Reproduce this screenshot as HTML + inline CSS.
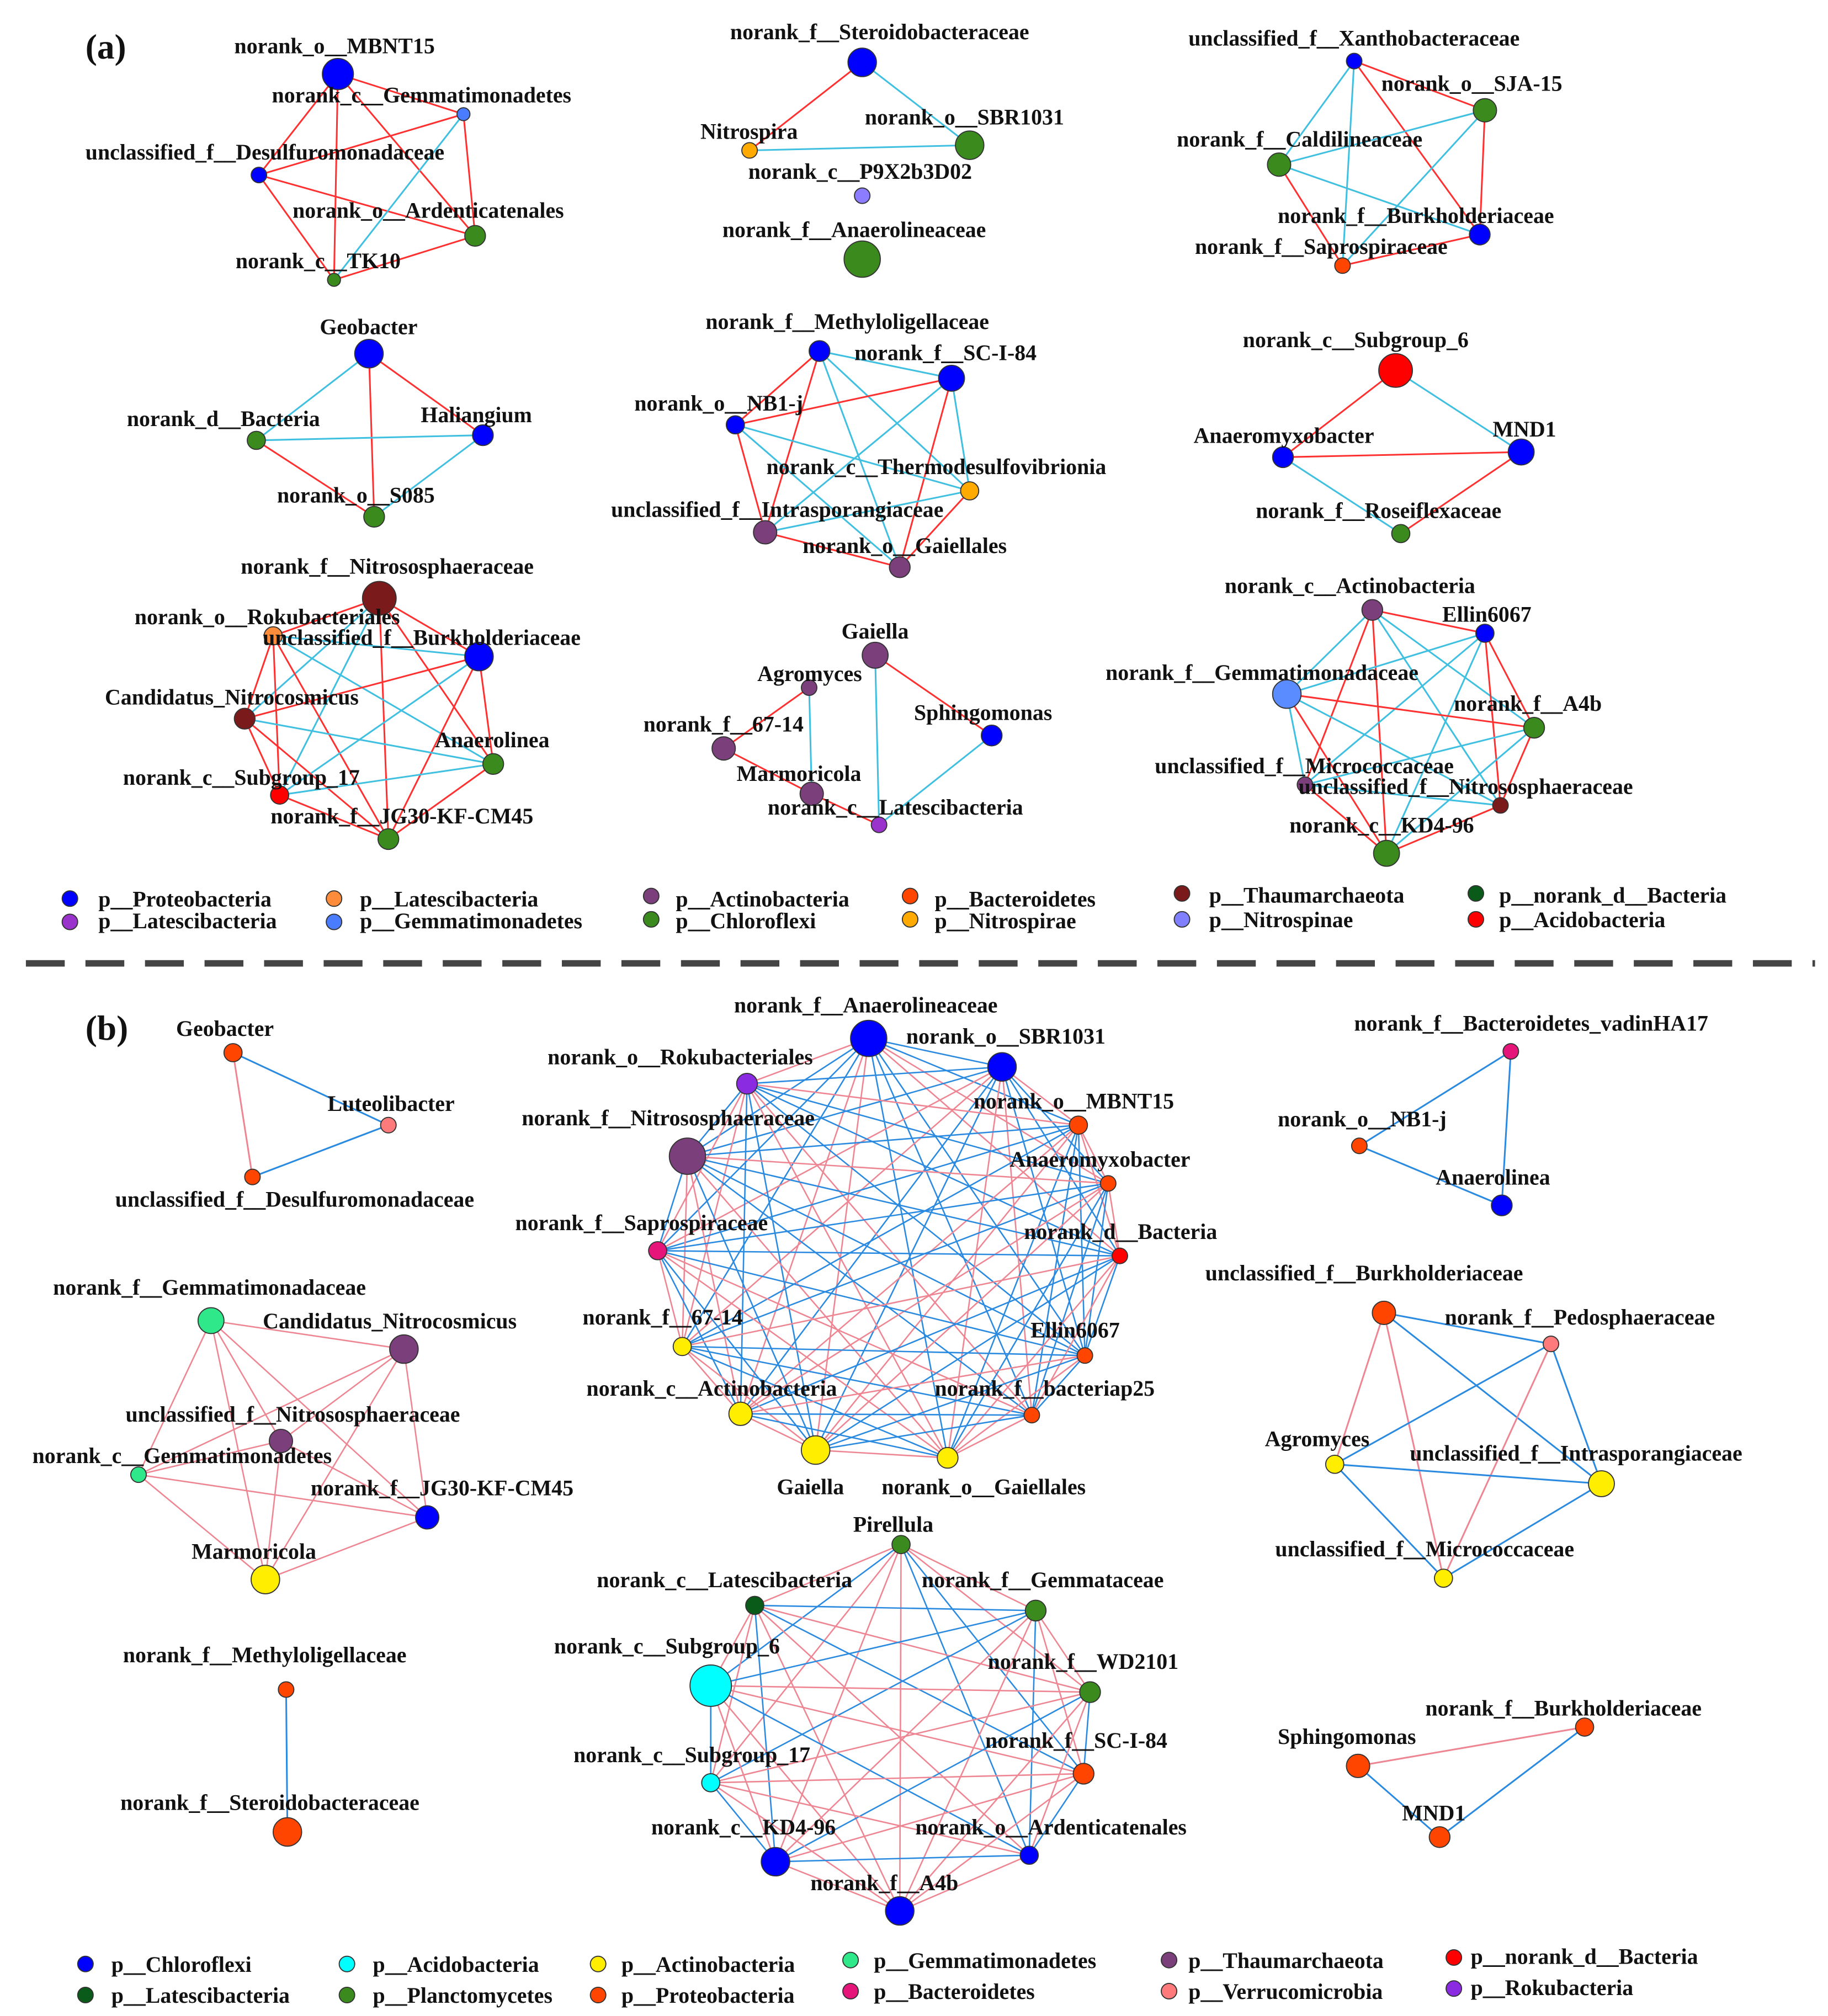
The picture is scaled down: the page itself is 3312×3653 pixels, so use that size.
<!DOCTYPE html>
<html><head><meta charset="utf-8">
<style>
html,body{margin:0;padding:0;background:#fff;}
svg{display:block;}
</style></head>
<body>
<svg id="s" xmlns="http://www.w3.org/2000/svg" width="3312" height="3653" viewBox="0 0 1412 1557">
<rect width="1412" height="1557" fill="#fff"/>
<g id="edges"></g>
<g id="nodes"></g>
<line x1="20" y1="744" x2="1402" y2="744" stroke="#444" stroke-width="5" stroke-dasharray="30,16"/>
<g id="labels" font-family="Liberation Serif, DejaVu Serif, serif" font-weight="bold" font-size="17" fill="#111">
<text x="66" y="45" font-size="27">(a)</text>
<text x="181" y="41">norank_o__MBNT15</text>
<text x="210" y="79">norank_c__Gemmatimonadetes</text>
<text x="66" y="123">unclassified_f__Desulfuromonadaceae</text>
<text x="226" y="168">norank_o__Ardenticatenales</text>
<text x="182" y="207">norank_c__TK10</text>
<text x="564" y="30">norank_f__Steroidobacteraceae</text>
<text x="668" y="96">norank_o__SBR1031</text>
<text x="541" y="107">Nitrospira</text>
<text x="578" y="138">norank_c__P9X2b3D02</text>
<text x="558" y="183">norank_f__Anaerolineaceae</text>
<text x="918" y="35">unclassified_f__Xanthobacteraceae</text>
<text x="1067" y="70">norank_o__SJA-15</text>
<text x="909" y="113">norank_f__Caldilineaceae</text>
<text x="987" y="172">norank_f__Burkholderiaceae</text>
<text x="923" y="196">norank_f__Saprospiraceae</text>
<text x="247" y="258">Geobacter</text>
<text x="98" y="329">norank_d__Bacteria</text>
<text x="325" y="326">Haliangium</text>
<text x="214" y="388">norank_o__S085</text>
<text x="545" y="254">norank_f__Methyloligellaceae</text>
<text x="660" y="278">norank_f__SC-I-84</text>
<text x="490" y="317">norank_o__NB1-j</text>
<text x="592" y="366">norank_c__Thermodesulfovibrionia</text>
<text x="472" y="399">unclassified_f__Intrasporangiaceae</text>
<text x="620" y="427">norank_o__Gaiellales</text>
<text x="960" y="268">norank_c__Subgroup_6</text>
<text x="922" y="342">Anaeromyxobacter</text>
<text x="1153" y="337">MND1</text>
<text x="970" y="400">norank_f__Roseiflexaceae</text>
<text x="186" y="443">norank_f__Nitrososphaeraceae</text>
<text x="104" y="482">norank_o__Rokubacteriales</text>
<text x="203" y="498">unclassified_f__Burkholderiaceae</text>
<text x="81" y="544">Candidatus_Nitrocosmicus</text>
<text x="336" y="577">Anaerolinea</text>
<text x="95" y="606">norank_c__Subgroup_17</text>
<text x="209" y="636">norank_f__JG30-KF-CM45</text>
<text x="650" y="493">Gaiella</text>
<text x="585" y="526">Agromyces</text>
<text x="497" y="565">norank_f__67-14</text>
<text x="706" y="556">Sphingomonas</text>
<text x="569" y="603">Marmoricola</text>
<text x="593" y="629">norank_c__Latescibacteria</text>
<text x="946" y="458">norank_c__Actinobacteria</text>
<text x="1114" y="480">Ellin6067</text>
<text x="854" y="525">norank_f__Gemmatimonadaceae</text>
<text x="1123" y="549">norank_f__A4b</text>
<text x="892" y="597">unclassified_f__Micrococcaceae</text>
<text x="1003" y="613">unclassified_f__Nitrososphaeraceae</text>
<text x="996" y="643">norank_c__KD4-96</text>

<text x="76" y="700">p__Proteobacteria</text>
<text x="76" y="717">p__Latescibacteria</text>
<text x="278" y="700">p__Latescibacteria</text>
<text x="278" y="717">p__Gemmatimonadetes</text>
<text x="522" y="700">p__Actinobacteria</text>
<text x="522" y="717">p__Chloroflexi</text>
<text x="722" y="700">p__Bacteroidetes</text>
<text x="722" y="717">p__Nitrospirae</text>
<text x="934" y="697">p__Thaumarchaeota</text>
<text x="934" y="716">p__Nitrospinae</text>
<text x="1158" y="697">p__norank_d__Bacteria</text>
<text x="1158" y="716">p__Acidobacteria</text>

<text x="66" y="803" font-size="27">(b)</text>
<text x="136" y="800">Geobacter</text>
<text x="253" y="858">Luteolibacter</text>
<text x="89" y="932">unclassified_f__Desulfuromonadaceae</text>
<text x="567" y="782">norank_f__Anaerolineaceae</text>
<text x="700" y="806">norank_o__SBR1031</text>
<text x="423" y="822">norank_o__Rokubacteriales</text>
<text x="752" y="856">norank_o__MBNT15</text>
<text x="403" y="869">norank_f__Nitrososphaeraceae</text>
<text x="780" y="901">Anaeromyxobacter</text>
<text x="398" y="950">norank_f__Saprospiraceae</text>
<text x="791" y="957">norank_d__Bacteria</text>
<text x="450" y="1023">norank_f__67-14</text>
<text x="796" y="1033">Ellin6067</text>
<text x="453" y="1078">norank_c__Actinobacteria</text>
<text x="722" y="1078">norank_f__bacteriap25</text>
<text x="600" y="1154">Gaiella</text>
<text x="681" y="1154">norank_o__Gaiellales</text>
<text x="1046" y="796">norank_f__Bacteroidetes_vadinHA17</text>
<text x="987" y="870">norank_o__NB1-j</text>
<text x="1109" y="915">Anaerolinea</text>
<text x="41" y="1000">norank_f__Gemmatimonadaceae</text>
<text x="203" y="1026">Candidatus_Nitrocosmicus</text>
<text x="97" y="1098">unclassified_f__Nitrososphaeraceae</text>
<text x="25" y="1130">norank_c__Gemmatimonadetes</text>
<text x="240" y="1155">norank_f__JG30-KF-CM45</text>
<text x="148" y="1204">Marmoricola</text>
<text x="931" y="989">unclassified_f__Burkholderiaceae</text>
<text x="1116" y="1023">norank_f__Pedosphaeraceae</text>
<text x="977" y="1117">Agromyces</text>
<text x="1089" y="1128">unclassified_f__Intrasporangiaceae</text>
<text x="985" y="1202">unclassified_f__Micrococcaceae</text>
<text x="95" y="1284">norank_f__Methyloligellaceae</text>
<text x="93" y="1398">norank_f__Steroidobacteraceae</text>
<text x="659" y="1183">Pirellula</text>
<text x="461" y="1226">norank_c__Latescibacteria</text>
<text x="712" y="1226">norank_f__Gemmataceae</text>
<text x="428" y="1277">norank_c__Subgroup_6</text>
<text x="763" y="1289">norank_f__WD2101</text>
<text x="443" y="1361">norank_c__Subgroup_17</text>
<text x="761" y="1350">norank_f__SC-I-84</text>
<text x="503" y="1417">norank_c__KD4-96</text>
<text x="707" y="1417">norank_o__Ardenticatenales</text>
<text x="626" y="1460">norank_f__A4b</text>
<text x="1101" y="1325">norank_f__Burkholderiaceae</text>
<text x="987" y="1347">Sphingomonas</text>
<text x="1083" y="1406">MND1</text>

<text x="86" y="1523">p__Chloroflexi</text>
<text x="86" y="1547">p__Latescibacteria</text>
<text x="288" y="1523">p__Acidobacteria</text>
<text x="288" y="1547">p__Planctomycetes</text>
<text x="480" y="1523">p__Actinobacteria</text>
<text x="480" y="1547">p__Proteobacteria</text>
<text x="675" y="1520">p__Gemmatimonadetes</text>
<text x="675" y="1544">p__Bacteroidetes</text>
<text x="918" y="1520">p__Thaumarchaeota</text>
<text x="918" y="1544">p__Verrucomicrobia</text>
<text x="1136" y="1517">p__norank_d__Bacteria</text>
<text x="1136" y="1541">p__Rokubacteria</text>
</g>
</svg>
<script>
(function(){
var NS="http://www.w3.org/2000/svg";
var E=document.getElementById("edges"),N=document.getElementById("nodes");
var BL="#0000ff",GR="#3a8a1e",OR="#ff4500",YE="#ffee00",PU="#7b3f7b",DR="#7a1a1a";
var RA="#ff3030",CA="#40c0e0",RB="#ee8592",BB="#2a8ae0";
function line(a,b,c,w){var l=document.createElementNS(NS,"line");l.setAttribute("x1",a[0]);l.setAttribute("y1",a[1]);l.setAttribute("x2",b[0]);l.setAttribute("y2",b[1]);l.setAttribute("stroke",c);l.setAttribute("stroke-width",w||1.3);E.appendChild(l);}
function circ(n){var c=document.createElementNS(NS,"circle");c.setAttribute("cx",n[0]);c.setAttribute("cy",n[1]);c.setAttribute("r",n[2]);c.setAttribute("fill",n[3]);c.setAttribute("stroke","#333");c.setAttribute("stroke-width","0.8");N.appendChild(c);}
function net(nodes,edges,w){edges.forEach(function(e){line(nodes[e[0]],nodes[e[1]],e[2],w);});nodes.forEach(circ);}
function all(nodes,c1,c2,w,seed){var ed=[],k=seed||0;for(var i=0;i<nodes.length;i++)for(var j=i+1;j<nodes.length;j++){k++;ed.push([i,j,((k*7+i*3+j)%5<2)?c2:c1]);}net(nodes,ed,w);}
net([[261,57,12,BL],[358,88,5,"#4a7cff"],[200,135,6,BL],[367,182,8,GR],[258,216,5,GR]],
 [[0,1,RA],[0,2,RA],[0,3,RA],[0,4,RA],[2,1,RA],[2,3,RA],[2,4,RA],[1,4,CA],[1,3,RA],[4,3,RA]]);
net([[666,48,11,BL],[749,112,11,GR],[579,116,6,"#ffaa00"],[666,151,6,"#8c7cff"],[666,200,14,GR]],
 [[0,2,RA],[0,1,CA],[2,1,CA]]);
all([[1046,47,6,BL],[1147,85,9,GR],[988,127,9,GR],[1143,181,8,BL],[1037,205,6,OR]],CA,RA,1.3,1);
net([[285,273,11,BL],[198,340,7,GR],[373,336,8,BL],[289,399,8,GR]],
 [[0,1,CA],[0,2,RA],[0,3,RA],[1,2,CA],[1,3,RA],[2,3,CA]]);
all([[633,271,8,BL],[735,292,10,BL],[568,328,7,BL],[749,379,7,"#ffaa00"],[591,411,9,PU],[695,438,8,PU]],CA,RA,1.3,2);
net([[1078,286,13,"#ff0000"],[991,353,8,BL],[1175,349,10,BL],[1082,412,7,GR]],
 [[0,1,RA],[0,2,CA],[1,2,RA],[1,3,CA],[3,2,RA]]);
all([[293,462,13,DR],[211,491,7,"#ff8c3a"],[370,507,11,BL],[189,555,8,DR],[381,590,8,GR],[216,614,7,"#ff0000"],[300,648,8,GR]],RA,CA,1.3,3);
net([[676,506,10,PU],[625,531,6,PU],[766,568,8,BL],[559,578,9,PU],[627,613,9,PU],[679,637,6,"#9933cc"]],
 [[0,2,RA],[0,5,CA],[1,3,RA],[3,4,RA],[4,5,RA],[2,5,CA],[1,4,CA]]);
all([[1060,471,8,PU],[1147,489,7,BL],[994,536,11,"#5b8cff"],[1185,562,8,GR],[1008,606,6,PU],[1159,622,6,DR],[1071,659,10,GR]],CA,RA,1.3,4);
[[54,694,BL],[54,712,"#9933cc"],[258,694,"#ff8c3a"],[258,712,"#4a7cff"],[503,692,PU],[503,710,GR],[703,692,OR],[703,710,"#ffaa00"],[913,690,DR],[913,710,"#8080ff"],[1140,690,"#0a5a1a"],[1140,710,"#ff0000"]].forEach(function(d){circ([d[0],d[1],6,d[2]]);});
net([[180,813,7,OR],[300,869,6,"#ff7a7a"],[195,909,6,OR]],[[0,1,BB],[0,2,RB],[1,2,BB]],1.3);
all([[671,802,14,BL],[774,824,11,BL],[577,837,8,"#8a2be2"],[833,869,7,OR],[531,893,14,PU],[856,914,6,OR],[508,966,7,"#e6157a"],[865,970,6,"#ff0000"],[527,1040,7,YE],[838,1047,6,OR],[572,1092,9,YE],[797,1093,6,OR],[630,1120,11,YE],[732,1126,8,YE]],BB,RB,1.1,5);
net([[1167,812,6,"#e6157a"],[1050,885,6,OR],[1160,931,8,BL]],[[0,1,BB],[0,2,BB],[1,2,BB]],1.3);
all([[163,1020,10,"#2ee88a"],[312,1042,11,PU],[217,1113,9,PU],[107,1139,6,"#2ee88a"],[330,1172,9,BL],[205,1220,11,YE]],RB,RB,1.1,6);
all([[1069,1014,9,OR],[1198,1038,6,"#ff7a7a"],[1031,1131,7,YE],[1237,1146,10,YE],[1115,1219,7,YE]],BB,RB,1.3,7);
net([[221,1305,6,OR],[222,1415,11,OR]],[[0,1,BB]],1.3);
all([[696,1193,7,GR],[583,1240,7,"#0a5a1a"],[800,1244,8,GR],[549,1302,16,"#00ffff"],[842,1307,8,GR],[837,1370,8,OR],[549,1377,7,"#00ffff"],[599,1438,11,BL],[795,1433,7,BL],[695,1476,11,BL]],RB,BB,1.1,8);
net([[1224,1334,7,OR],[1049,1364,9,OR],[1112,1419,8,OR]],[[1,0,RB],[1,2,BB],[2,0,BB]],1.3);
[[66,1517,BL],[66,1541,"#0a5a1a"],[268,1517,"#00ffff"],[268,1541,GR],[462,1517,YE],[462,1541,OR],[657,1514,"#2ee88a"],[657,1538,"#e6157a"],[903,1514,PU],[903,1538,"#ff7a7a"],[1123,1512,"#ff0000"],[1123,1536,"#8a2be2"]].forEach(function(d){circ([d[0],d[1],6,d[2]]);});
})();
</script>
</body></html>
